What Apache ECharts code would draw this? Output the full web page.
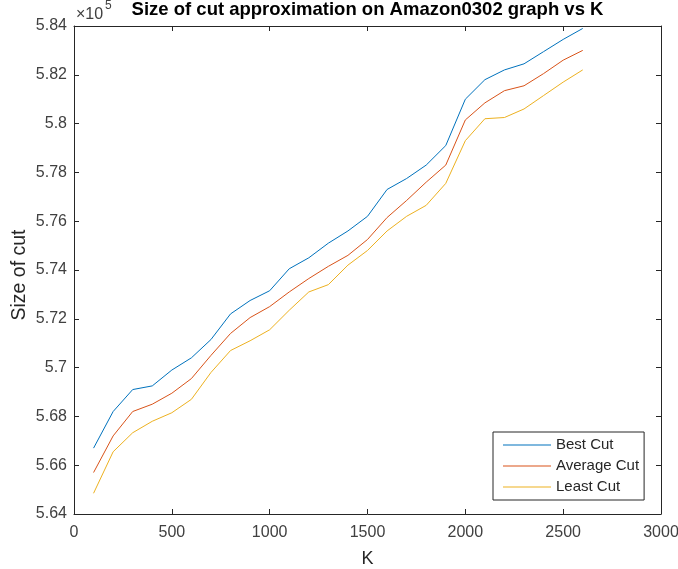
<!DOCTYPE html>
<html>
<head>
<meta charset="utf-8">
<script src="https://cdn.jsdelivr.net/npm/echarts@6/dist/echarts.min.js"></script>
<style>
  html, body { margin: 0; padding: 0; background: #ffffff; }
  #chart { width: 678px; height: 569px; }
</style>
</head>
<body>
<div id="chart"></div>
<script>
// K values (number of iterations / partitions tried)
const kValues = [100, 200, 300, 400, 500, 600, 700, 800, 900, 1000, 1100, 1200, 1300,
                 1400, 1500, 1600, 1700, 1800, 1900, 2000, 2100, 2200, 2300, 2400, 2500, 2600];

// Cut sizes, in units of 1e5 edges
const bestCut = [5.667, 5.682, 5.691, 5.6925, 5.699, 5.704, 5.7115, 5.722, 5.7275, 5.7315,
                 5.7405, 5.745, 5.751, 5.756, 5.762, 5.773, 5.7775, 5.783, 5.791, 5.810,
                 5.818, 5.822, 5.8245, 5.8295, 5.8345, 5.839];
const averageCut = [5.657, 5.672, 5.682, 5.685, 5.6895, 5.6955, 5.705, 5.714, 5.7205, 5.725,
                    5.731, 5.7365, 5.7415, 5.746, 5.7525, 5.7615, 5.7685, 5.776, 5.783, 5.8015,
                    5.8085, 5.8135, 5.8155, 5.8205, 5.826, 5.830];
const leastCut = [5.6485, 5.6655, 5.6733, 5.678, 5.6815, 5.687, 5.698, 5.707, 5.711, 5.7155,
                  5.7235, 5.731, 5.734, 5.742, 5.748, 5.756, 5.762, 5.7665, 5.7755, 5.793,
                  5.802, 5.8025, 5.806, 5.8115, 5.817, 5.822];

const seriesNames = ['Best Cut', 'Average Cut', 'Least Cut'];
const SCALE = 1e5;

const xTicks = { min: 0, max: 3000, step: 500 };
const yTicks = { min: 5.64, max: 5.84, step: 0.02 };

const toPairs = vals => kValues.map((k, i) => [k, Math.round(vals[i] * SCALE)]);

const FONT = '"Liberation Sans", Arial, Helvetica, sans-serif';
const AXIS_COLOR = '#262626';
const LABEL_COLOR = '#404040';

// fixed plot box; labels sit outside it without shrinking it
const grid = { left: 74, right: 17, top: 26, bottom: 55, containLabel: false, outerBoundsMode: 'none' };

const chart = echarts.init(document.getElementById('chart'), null, { renderer: 'canvas' });

const yLabel = v => String(Math.round(v / SCALE * 100) / 100);
const xLabel = v => String(v);

const boxAxis = {
  axisLine: { show: true, onZero: false, lineStyle: { color: AXIS_COLOR, width: 1 } },
  axisTick: { show: true, inside: true, length: 5, lineStyle: { color: AXIS_COLOR, width: 1 } },
  splitLine: { show: false }
};

chart.setOption({
  animation: false,
  backgroundColor: '#ffffff',
  textStyle: { fontFamily: FONT },
  color: ['#0072BD', '#D95319', '#EDB120'],
  grid: grid,
  legend: {
    data: seriesNames,
    orient: 'vertical',
    left: 493,
    top: 432,
    padding: [5, 5, 5, 10],
    icon: 'rect',
    itemWidth: 48,
    itemHeight: 1,
    itemGap: 5,
    itemTextGap: 7,
    borderColor: AXIS_COLOR,
    borderWidth: 1,
    backgroundColor: '#ffffff',
    textStyle: { fontSize: 15, lineHeight: 16, color: AXIS_COLOR, fontFamily: FONT }
  },
  xAxis: [
    Object.assign({
      type: 'value',
      position: 'bottom',
      min: xTicks.min,
      max: xTicks.max,
      interval: xTicks.step,
      name: 'K',
      nameLocation: 'middle',
      nameGap: 36,
      nameTextStyle: { fontSize: 18, color: AXIS_COLOR, fontFamily: FONT },
      axisLabel: { fontSize: 16, color: LABEL_COLOR, margin: 11, formatter: xLabel, fontFamily: FONT }
    }, boxAxis),
    Object.assign({
      type: 'value',
      position: 'top',
      min: xTicks.min,
      max: xTicks.max,
      interval: xTicks.step,
      axisLabel: { show: false }
    }, boxAxis)
  ],
  yAxis: [
    Object.assign({
      type: 'value',
      position: 'left',
      min: Math.round(yTicks.min * SCALE),
      max: Math.round(yTicks.max * SCALE),
      interval: Math.round(yTicks.step * SCALE),
      axisLabel: { fontSize: 16, color: LABEL_COLOR, margin: 7, formatter: yLabel, fontFamily: FONT }
    }, boxAxis),
    Object.assign({
      type: 'value',
      position: 'right',
      min: Math.round(yTicks.min * SCALE),
      max: Math.round(yTicks.max * SCALE),
      interval: Math.round(yTicks.step * SCALE),
      axisLabel: { show: false }
    }, boxAxis)
  ],
  graphic: [
    {
      type: 'text',
      x: 367.5,
      y: 0,
      style: {
        text: 'Size of cut approximation on Amazon0302 graph vs K',
        font: 'bold 18.5px ' + FONT,
        fill: '#000000',
        align: 'center',
        verticalAlign: 'top'
      }
    },
    {
      // y-axis title, rotated to read bottom-to-top
      type: 'text',
      x: 20,
      y: 275,
      rotation: Math.PI / 2,
      style: {
        text: 'Size of cut',
        font: '19.5px ' + FONT,
        fill: AXIS_COLOR,
        align: 'center',
        verticalAlign: 'middle'
      }
    },
    {
      // exponent marker for the y axis
      type: 'text',
      x: 76,
      y: 7,
      style: { text: '\u00d710', font: '16px ' + FONT, fill: LABEL_COLOR, align: 'left', verticalAlign: 'top' }
    },
    {
      type: 'text',
      x: 105,
      y: 0,
      style: { text: '5', font: '12px ' + FONT, fill: LABEL_COLOR, align: 'left', verticalAlign: 'top' }
    }
  ],
  series: [bestCut, averageCut, leastCut].map((vals, i) => ({
    name: seriesNames[i],
    type: 'line',
    xAxisIndex: 0,
    yAxisIndex: 0,
    data: toPairs(vals),
    symbol: 'none',
    showSymbol: false,
    smooth: false,
    lineStyle: { width: 1 }
  }))
});
</script>
</body>
</html>
